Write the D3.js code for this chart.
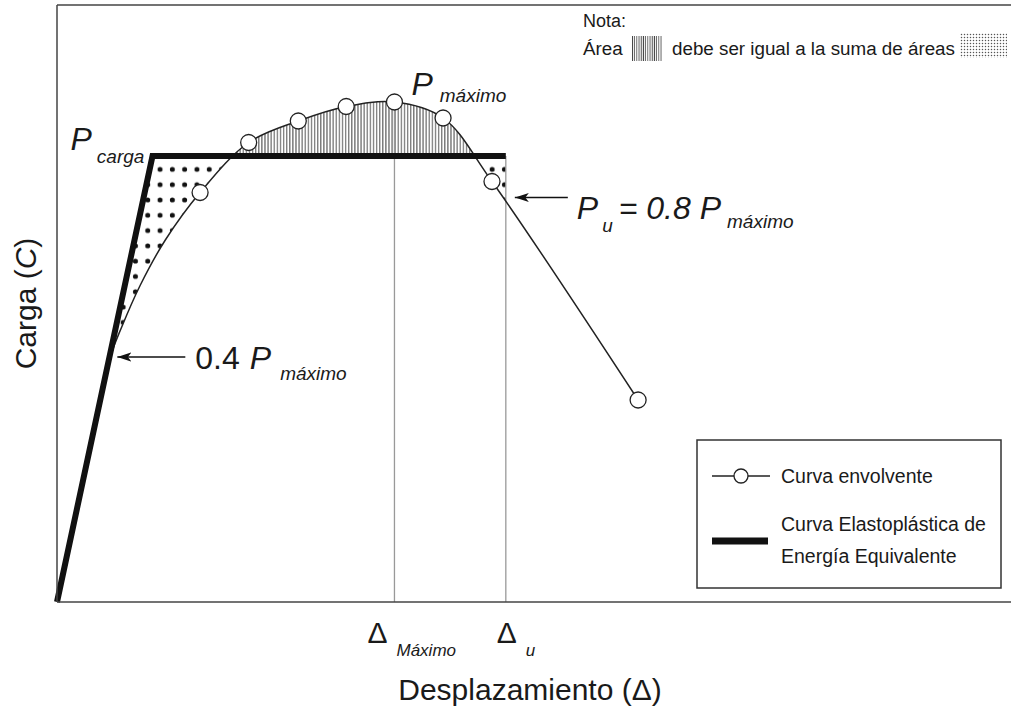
<!DOCTYPE html>
<html>
<head>
<meta charset="utf-8">
<title>Curva envolvente y curva elastoplástica</title>
<script src="https://d3js.org/d3.v7.min.js"></script>
<style>
    html, body {
        margin: 0;
        background: white;
    }
    svg {
        display: block;
        font-family: "Liberation Sans", Arial, sans-serif;
    }
</style>
</head>
<body>
<svg id="svg"></svg>
<script>
    // envelope curve: points drawn with a circle
    const envDisp = [42.4, 56.8, 71.5, 85.7, 100, 114.4, 128.9, 172.2];
    const envLoad = [81.9, 91.9, 96.2, 99.1, 100, 96.8, 84.1, 40.4];
    // envelope curve: elastic start, no markers (second point is 0.4 Pmax)
    const startDisp = [0, 15.8, 19.3, 24.7, 32.1];
    const startLoad = [0, 49, 55.2, 63.4, 72.4];
    // equivalent energy elastoplastic curve
    const eeepDisp = [0, 28.3, 133];
    const eeepLoad = [0, 89.2, 89.2];
    // reference values
    const Pmax = 100;
    const Dmax = 100;
    const Du = 133;
    const PuLoad = 80.9;
    // axis marks
    const tickDisp = [Dmax, Du];
    const tickSub = ["Máximo", "u"];

    const W = 1011, H = 719;
    const margins = {top: 5, left: 57, right: 0, bottom: 117};

    const svg = d3.select("#svg")
        .attr("width", W)
        .attr("height", H);

    const x = d3.scaleLinear()
        .domain([0, 282.7])
        .range([margins.left, W - margins.right]);

    const y = d3.scaleLinear()
        .domain([0, 119.4])
        .range([H - margins.bottom, margins.top]);

    const envelope = startDisp.map((d, i) => ({d: d, p: startLoad[i], mark: false}))
        .concat(envDisp.map((d, i) => ({d: d, p: envLoad[i], mark: true})));
    const eeep = eeepDisp.map((d, i) => ({d: d, p: eeepLoad[i]}));
    const Pcarga = eeepLoad[1];

    const curve = d3.curveCatmullRom.alpha(0.5);

    const envLine = d3.line()
        .x(e => x(e.d))
        .y(e => y(e.p))
        .curve(curve);

    const underEnv = d3.area()
        .x(e => x(e.d))
        .y0(y(0))
        .y1(e => y(e.p))
        .curve(curve);

    const overCarga = d3.area()
        .x(e => x(e.d))
        .y0(y(Pcarga))
        .y1(e => y(e.p))
        .curve(curve);

    const plainLine = d3.line().x(e => x(e.d)).y(e => y(e.p));

    const defs = svg.append("defs");

    // dot fill
    const dots = defs.append("pattern")
        .attr("id", "dots")
        .attr("patternUnits", "userSpaceOnUse")
        .attr("x", 153.9).attr("y", 161.7)
        .attr("width", 12.3).attr("height", 15.3);
    dots.append("circle")
        .attr("cx", 6.15).attr("cy", 7.65).attr("r", 2.5)
        .attr("fill", "#111");

    // vertical hatch
    const hatch = defs.append("pattern")
        .attr("id", "hatch")
        .attr("patternUnits", "userSpaceOnUse")
        .attr("width", 3.1).attr("height", 10);
    hatch.append("line")
        .attr("x1", 1.5).attr("x2", 1.5).attr("y1", 0).attr("y2", 10)
        .attr("stroke", "#333").attr("stroke-width", 0.9);

    const hatchSmall = defs.append("pattern")
        .attr("id", "hatchSmall")
        .attr("patternUnits", "userSpaceOnUse")
        .attr("width", 2.2).attr("height", 10);
    hatchSmall.append("line")
        .attr("x1", 1).attr("x2", 1).attr("y1", 0).attr("y2", 10)
        .attr("stroke", "#444").attr("stroke-width", 0.9);

    const dotsSmall = defs.append("pattern")
        .attr("id", "dotsSmall")
        .attr("patternUnits", "userSpaceOnUse")
        .attr("width", 3).attr("height", 3);
    dotsSmall.append("circle")
        .attr("cx", 1.5).attr("cy", 1.5).attr("r", 0.75)
        .attr("fill", "#555");

    // dotted region = under elastoplastic curve minus under envelope
    const dotMask = defs.append("mask")
        .attr("id", "dotMask")
        .attr("maskUnits", "userSpaceOnUse")
        .attr("x", 0).attr("y", 0).attr("width", W).attr("height", H);
    dotMask.append("path")
        .attr("d", plainLine(eeep.concat([{d: Du, p: 0}])) + "Z")
        .attr("fill", "white");
    dotMask.append("path")
        .attr("d", underEnv(envelope))
        .attr("fill", "black");

    defs.append("clipPath")
        .attr("id", "aboveCarga")
        .append("rect")
        .attr("x", 0).attr("y", 0)
        .attr("width", W).attr("height", y(Pcarga));

    defs.append("marker")
        .attr("id", "arrow")
        .attr("viewBox", "0 -5 14 10")
        .attr("refX", 14).attr("refY", 0)
        .attr("markerWidth", 14).attr("markerHeight", 10)
        .attr("markerUnits", "userSpaceOnUse")
        .attr("orient", "auto")
        .append("path")
        .attr("d", "M0,-4.5L14,0L0,4.5L3.5,0Z")
        .attr("fill", "#111");

    // shaded areas
    svg.append("rect")
        .attr("x", 0).attr("y", 0).attr("width", W).attr("height", H)
        .attr("fill", "url(#dots)")
        .attr("mask", "url(#dotMask)");

    svg.append("path")
        .attr("d", overCarga(envelope))
        .attr("fill", "url(#hatch)")
        .attr("clip-path", "url(#aboveCarga)");

    // reference verticals
    svg.append("line")
        .attr("x1", x(Dmax)).attr("x2", x(Dmax))
        .attr("y1", y(Pmax)).attr("y2", y(0))
        .attr("stroke", "#999").attr("stroke-width", 1.3);
    svg.append("line")
        .attr("x1", x(Du)).attr("x2", x(Du))
        .attr("y1", y(Pcarga)).attr("y2", y(0))
        .attr("stroke", "#999").attr("stroke-width", 1.3);

    // curves
    svg.append("path")
        .attr("d", envLine(envelope))
        .attr("fill", "none")
        .attr("stroke", "#222")
        .attr("stroke-width", 1.5);

    svg.append("path")
        .attr("d", plainLine(eeep))
        .attr("fill", "none")
        .attr("stroke", "#111")
        .attr("stroke-width", 6)
        .attr("stroke-linejoin", "miter");

    svg.selectAll("circle.pt")
        .data(envelope.filter(e => e.mark))
        .enter()
        .append("circle")
        .attr("class", "pt")
        .attr("cx", e => x(e.d))
        .attr("cy", e => y(e.p))
        .attr("r", 8)
        .attr("fill", "white")
        .attr("stroke", "#222")
        .attr("stroke-width", 1.3);

    // frame
    const frame = svg.append("g")
        .attr("stroke", "#444")
        .attr("stroke-width", 1.5);
    frame.append("line")
        .attr("x1", x(0)).attr("x2", x(0))
        .attr("y1", y.range()[1]).attr("y2", y(0));
    frame.append("line")
        .attr("x1", x(0)).attr("x2", x.range()[1])
        .attr("y1", y.range()[1]).attr("y2", y.range()[1]);
    frame.append("line")
        .attr("x1", x(0)).attr("x2", x.range()[1])
        .attr("y1", y(0)).attr("y2", y(0));

    function label(px, py, parts, anchor) {
        const t = svg.append("text")
            .attr("x", px).attr("y", py)
            .attr("fill", "#1a1a1a")
            .attr("text-anchor", anchor || "start");
        parts.forEach(p => {
            t.append("tspan")
                .attr("dx", p.dx || 0)
                .attr("dy", p.dy || 0)
                .attr("font-size", p.size)
                .attr("font-style", p.italic ? "italic" : "normal")
                .text(p.t);
        });
        return t;
    }

    function arrow(x1, x2, yy) {
        svg.append("line")
            .attr("x1", x1).attr("x2", x2)
            .attr("y1", yy).attr("y2", yy)
            .attr("stroke", "#111").attr("stroke-width", 1.5)
            .attr("marker-end", "url(#arrow)");
    }

    // P carga
    label(x(eeepDisp[1]) - 82, y(Pcarga) - 6, [
        {t: "P", size: 32, italic: true},
        {t: "carga", size: 19, italic: true, dx: 5, dy: 13}
    ]);

    // P maximo
    label(x(Dmax) + 17, y(Pmax) - 7, [
        {t: "P", size: 32, italic: true},
        {t: "máximo", size: 19, italic: true, dx: 7, dy: 7}
    ]);

    // 0.4 P maximo
    const p04 = {d: startDisp[1], p: startLoad[1]};
    arrow(x(p04.d) + 75, x(p04.d) + 7, y(p04.p));
    label(x(p04.d) + 85, y(p04.p) + 12, [
        {t: "0.4", size: 32},
        {t: "P", size: 32, italic: true, dx: 10},
        {t: "máximo", size: 19, italic: true, dx: 9, dy: 11}
    ]);

    // Pu = 0.8 P maximo
    arrow(x(Du) + 62, x(Du) + 9, y(PuLoad));
    label(x(Du) + 71, y(PuLoad) + 21.5, [
        {t: "P", size: 32, italic: true},
        {t: "u", size: 19, italic: true, dx: 4, dy: 13},
        {t: "= 0.8 P", size: 32, italic: true, dx: 6, dy: -13},
        {t: "máximo", size: 19, italic: true, dx: 6, dy: 9}
    ]);

    // axis marks
    const tickShift = [-27, -9];
    tickDisp.forEach((d, i) => {
        label(x(d) + tickShift[i], 643, [
            {t: "Δ", size: 30},
            {t: tickSub[i], size: 17, italic: true, dx: 9, dy: 13}
        ]);
    });

    // axis titles
    label(530, 700, [{t: "Desplazamiento (Δ)", size: 30}], "middle");
    label(0, 0, [
        {t: "Carga (", size: 30},
        {t: "C", size: 30, italic: true},
        {t: ")", size: 30}
    ], "middle").attr("transform", `translate(36, ${(y(0) + y.range()[1]) / 2}) rotate(-90)`);

    // note
    label(583, 27, [{t: "Nota:", size: 18}]);
    label(583, 55, [{t: "Área", size: 18.8}]);
    svg.append("rect")
        .attr("x", 632).attr("y", 36).attr("width", 30).attr("height", 25)
        .attr("fill", "url(#hatchSmall)");
    label(672, 55, [{t: "debe ser igual a la suma de áreas", size: 18.8}]);
    svg.append("rect")
        .attr("x", 960).attr("y", 33).attr("width", 47).attr("height", 25)
        .attr("fill", "url(#dotsSmall)");

    // legend
    const legend = svg.append("g").attr("transform", "translate(697, 440)");
    legend.append("rect")
        .attr("width", 304).attr("height", 148)
        .attr("fill", "white")
        .attr("stroke", "#333").attr("stroke-width", 1.5);
    legend.append("line")
        .attr("x1", 15).attr("x2", 73).attr("y1", 36).attr("y2", 36)
        .attr("stroke", "#222").attr("stroke-width", 1.5);
    legend.append("circle")
        .attr("cx", 44).attr("cy", 36).attr("r", 7)
        .attr("fill", "white").attr("stroke", "#222").attr("stroke-width", 1.3);
    legend.append("text")
        .attr("x", 84).attr("y", 43).attr("font-size", 19.5).attr("fill", "#1a1a1a")
        .text("Curva envolvente");
    legend.append("line")
        .attr("x1", 15).attr("x2", 71).attr("y1", 101).attr("y2", 101)
        .attr("stroke", "#111").attr("stroke-width", 7);
    legend.append("text")
        .attr("x", 84).attr("y", 91).attr("font-size", 19.5).attr("fill", "#1a1a1a")
        .text("Curva Elastoplástica de");
    legend.append("text")
        .attr("x", 84).attr("y", 123).attr("font-size", 19.5).attr("fill", "#1a1a1a")
        .text("Energía Equivalente");
</script>
</body>
</html>
